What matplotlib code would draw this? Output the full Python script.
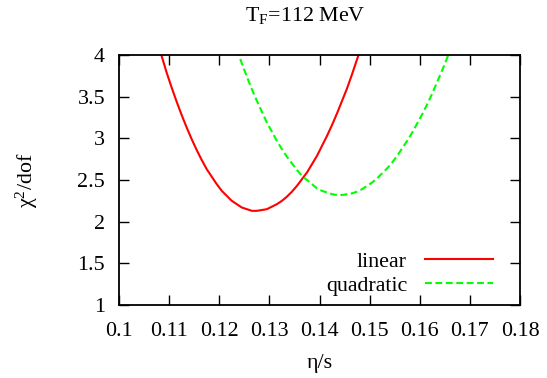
import matplotlib
matplotlib.use("Agg")
import matplotlib.pyplot as plt

# ---- data ----
linear_eta = [0.1085, 0.1095, 0.1105, 0.1115, 0.1125, 0.1135, 0.1145, 0.1155,
              0.1165, 0.1175, 0.1185, 0.1195, 0.1205, 0.1215, 0.1225, 0.1235,
              0.1245, 0.1255, 0.1265, 0.1275, 0.1285, 0.1295, 0.1305, 0.1315,
              0.1325, 0.1335, 0.1345, 0.1355, 0.1365, 0.1375, 0.1385, 0.1395,
              0.1405, 0.1415, 0.1425, 0.1435, 0.1445, 0.1455, 0.1465, 0.1475,
              0.1480]
linear_chi = [3.99, 3.79, 3.61, 3.44, 3.28, 3.13, 2.99, 2.86,
              2.74, 2.63, 2.54, 2.45, 2.37, 2.31, 2.25, 2.21,
              2.17, 2.15, 2.13, 2.13, 2.14, 2.15, 2.18, 2.21,
              2.25, 2.30, 2.36, 2.43, 2.51, 2.59, 2.69, 2.79,
              2.91, 3.03, 3.16, 3.30, 3.45, 3.60, 3.77, 3.95,
              4.04]

quad_eta = [0.1235, 0.1245, 0.1255, 0.1265, 0.1275, 0.1285, 0.1295, 0.1305,
            0.1315, 0.1325, 0.1335, 0.1345, 0.1355, 0.1365, 0.1375, 0.1385,
            0.1395, 0.1405, 0.1415, 0.1425, 0.1435, 0.1445, 0.1455, 0.1465,
            0.1475, 0.1485, 0.1495, 0.1505, 0.1515, 0.1525, 0.1535, 0.1545,
            0.1555, 0.1565, 0.1575, 0.1585, 0.1595, 0.1605, 0.1615, 0.1625,
            0.1635, 0.1645, 0.1655, 0.1665]
quad_chi = [4.07, 3.90, 3.74, 3.59, 3.45, 3.32, 3.19, 3.08,
            2.97, 2.87, 2.78, 2.70, 2.62, 2.55, 2.50, 2.45,
            2.40, 2.37, 2.35, 2.33, 2.32, 2.32, 2.33, 2.34,
            2.36, 2.39, 2.43, 2.47, 2.52, 2.58, 2.64, 2.71,
            2.79, 2.88, 2.97, 3.07, 3.18, 3.29, 3.41, 3.54,
            3.68, 3.82, 3.97, 4.13]

x_ticks = [0.10, 0.11, 0.12, 0.13, 0.14, 0.15, 0.16, 0.17, 0.18]
x_ticklabels = ["0.1", "0.11", "0.12", "0.13", "0.14", "0.15", "0.16", "0.17", "0.18"]
y_ticks = [1, 1.5, 2, 2.5, 3, 3.5, 4]
y_ticklabels = ["1", "1.5", "2", "2.5", "3", "3.5", "4"]

series_labels = ["linear", "quadratic"]
title_text = "T$_{\\mathrm{F}}$=112 MeV"
xlabel_text = "η/s"
ylabel_text = "χ$^{2}$/dof"

# ---- style ----
plt.rcParams["font.family"] = ["Liberation Serif", "DejaVu Serif"]
plt.rcParams["mathtext.fontset"] = "custom"
plt.rcParams["mathtext.rm"] = "Liberation Serif"
plt.rcParams["mathtext.it"] = "Liberation Serif:italic"
fs = 15.8

fig = plt.figure(figsize=(5.47, 3.78), dpi=100)
ax = fig.add_axes([119/547, 1 - 305/378, (520-119)/547, (305-55)/378])

ax.plot(linear_eta, linear_chi, color="#ff0000", lw=1.5, label=series_labels[0])
ax.plot(quad_eta, quad_chi, color="#00ff00", lw=1.5, dashes=(3.3, 1.7),
        label=series_labels[1])

ax.set_xlim(0.10, 0.18)
ax.set_ylim(1, 4)
ax.set_xticks(x_ticks)
ax.set_xticklabels(x_ticklabels)
ax.set_yticks(y_ticks)
ax.set_yticklabels(y_ticklabels)
ax.tick_params(direction="in", length=7, width=1, top=True, right=True,
               labelsize=fs, colors="black")
ax.tick_params(axis="x", pad=12.5)
ax.tick_params(axis="y", pad=10)
for s in ax.spines.values():
    s.set_linewidth(1.3)

ax.set_xlabel(xlabel_text, fontsize=fs, labelpad=9)
ax.set_ylabel(ylabel_text, fontsize=fs, labelpad=27)

fig.text(305/547, 1 - 16/378, title_text, fontsize=fs, ha="center", va="center")

leg = ax.legend(loc="lower right", bbox_to_anchor=(0.970, -0.024), frameon=False,
                markerfirst=False, fontsize=fs, handlelength=3.1,
                handletextpad=0.8, labelspacing=0.15, borderaxespad=0.3)

fig.savefig("out.png", dpi=100)
